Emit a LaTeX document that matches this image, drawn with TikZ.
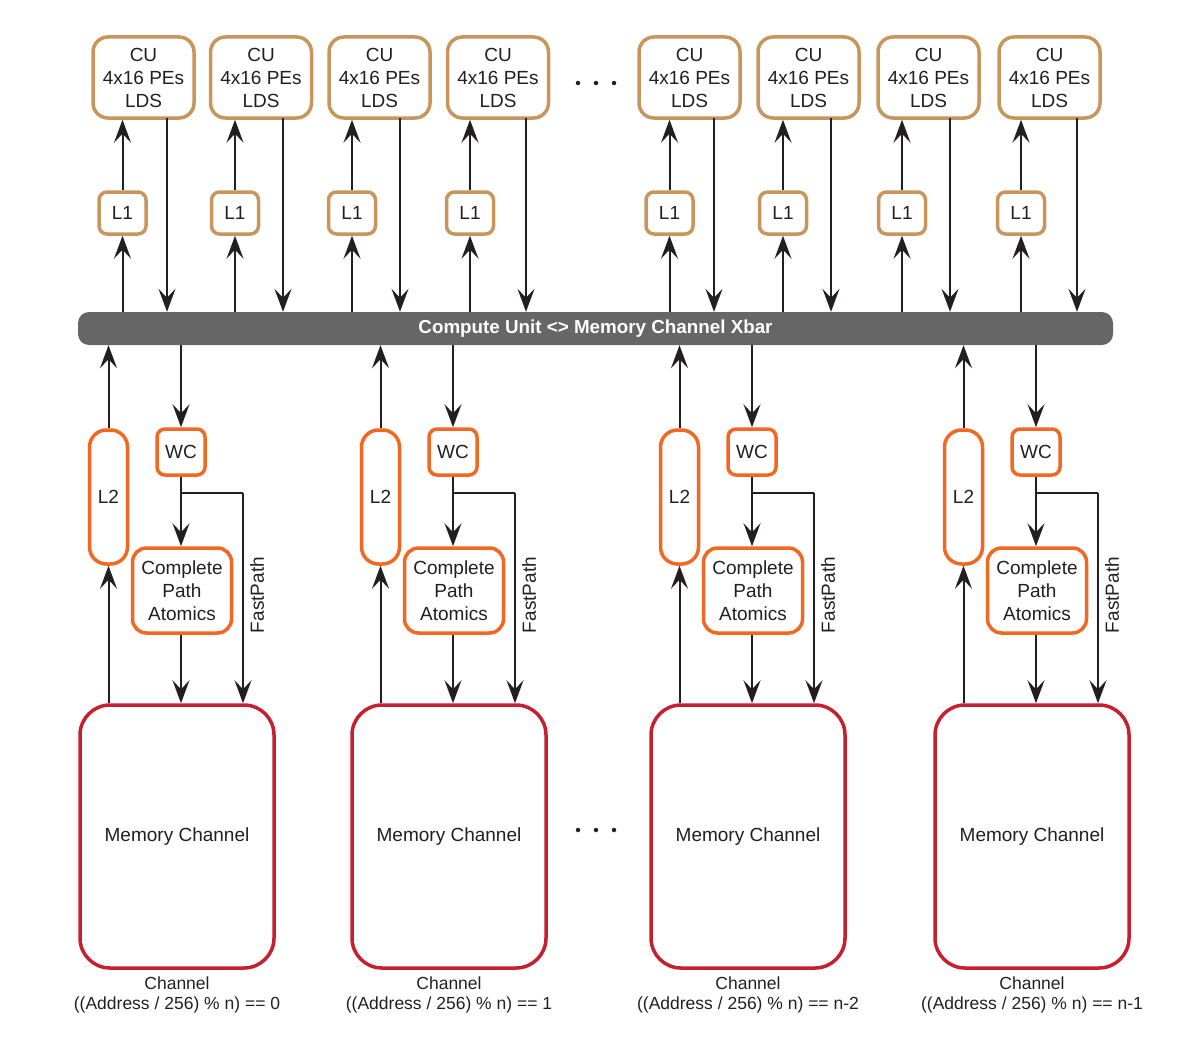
\documentclass[tikz,border=0pt]{standalone}
\usepackage{fontspec}
\setmainfont{Liberation Sans}
\usetikzlibrary{arrows.meta,calc}
\definecolor{cutan}{HTML}{C8955C}
\definecolor{orng}{HTML}{F26722}
\definecolor{memred}{HTML}{C51F30}
\definecolor{xgray}{HTML}{666666}
\definecolor{ink}{HTML}{231F20}
\tikzset{
  txt/.style={font=\fontsize{17.5}{22.5}\selectfont, text=ink, align=center, inner sep=0pt},
  btxt/.style={font=\fontsize{19}{23}\selectfont, text=ink, align=center, inner sep=0pt},
  cubox/.style={btxt, draw=cutan, line width=3.5pt, rounded corners=15pt, minimum width=101pt, minimum height=81pt, fill=white},
  lonebox/.style={btxt, draw=cutan, line width=3.5pt, rounded corners=8pt, minimum width=47pt, minimum height=42pt, fill=white},
  ltwobox/.style={btxt, draw=orng, line width=3.5pt, rounded corners=17pt, minimum width=38pt, minimum height=134pt, fill=white},
  wcbox/.style={btxt, draw=orng, line width=3.5pt, rounded corners=8pt, minimum width=48pt, minimum height=46pt, fill=white},
  cpabox/.style={btxt, draw=orng, line width=3.5pt, rounded corners=14pt, minimum width=99pt, minimum height=85pt, fill=white},
  membox/.style={btxt, draw=memred, line width=3.5pt, rounded corners=30pt, minimum width=194pt, minimum height=263pt, fill=white},
  xbarbox/.style={fill=xgray, rounded corners=11pt, minimum width=1035pt, minimum height=33pt, inner sep=0pt, text=white, font=\fontsize{18.8}{22}\selectfont\bfseries},
  arr/.style={draw=ink, line width=2pt, -{Stealth[length=23pt, width=17pt, inset=9pt]}},
  wire/.style={draw=ink, line width=2pt},
  dotc/.style={fill=ink, draw=none, circle, minimum size=4.5pt, inner sep=0pt},
}
\begin{document}
\begin{tikzpicture}[x=1pt,y=-1pt]
\useasboundingbox (0,0) rectangle (1180,1041);

% Xbar
\node[xbarbox] (xbar) at (595.5,328.5) {Compute Unit <> Memory Channel Xbar};

% CU columns: cu center x, L1 center x, down-arrow x
\foreach \i/\cx/\lx/\dx in {1/143.5/122.5/167, 2/261/235/283, 3/379.5/352/400, 4/498/470/526,
                            5/689.5/669.5/714, 6/808.5/783/831, 7/928.5/902/950, 8/1049.5/1021/1077}{
  \node[cubox] (cu\i) at (\cx,77.5) {CU\\4x16 PEs\\LDS};
  \node[lonebox] (lone\i) at (\lx,213) {L1};
  \coordinate (dn\i) at (\dx,118);
  \draw[arr] (lone\i.south |- xbar.north) -- (lone\i.south);
  \draw[arr] (lone\i.north) -- (lone\i.north |- cu\i.south);
  \draw[arr] (dn\i) -- (dn\i |- xbar.north);
}

% top dots
\node[dotc] (td1) at (578,83) {};
\node[dotc] (td2) at (596,83) {};
\node[dotc] (td3) at (614,83) {};

% memory columns
\foreach \j/\c/\lab in {1/80/0, 2/352/1, 3/651/n-2, 4/935/n-1}{
  \node[membox] (mem\j) at (\c+97,836.5) {Memory Channel};
  \node[ltwobox] (ltwo\j) at (\c+28.5,497) {L2};
  \node[wcbox] (wc\j) at (\c+101,452) {WC};
  \node[cpabox] (cpa\j) at (\c+102,590.5) {Complete\\Path\\Atomics};
  \coordinate (br\j) at (\c+163,493);
  \draw[arr] (ltwo\j.south |- mem\j.north) -- (ltwo\j.south);
  \draw[arr] (ltwo\j.north) -- (ltwo\j.north |- xbar.south);
  \draw[arr] (wc\j.north |- xbar.south) -- (wc\j.north);
  \draw[arr] (wc\j.south) -- (wc\j.south |- cpa\j.north);
  \draw[wire] (wc\j.south |- br\j) -- (br\j);
  \draw[arr] (br\j) -- (br\j |- mem\j.north);
  \draw[arr] (cpa\j.south -| wc\j.south) -- (wc\j.south |- mem\j.north);
  \node[btxt, rotate=90] (fp\j) at (\c+177,595) {FastPath};
  \node[txt] (ch\j) at (\c+97,983.5) {Channel};
  \node[txt] (eq\j) at (\c+97,1004.5) {((Address / 256) \% n) == \lab};
}

% bottom dots
\node[dotc] (bd1) at (578,830) {};
\node[dotc] (bd2) at (596,830) {};
\node[dotc] (bd3) at (614,830) {};
\end{tikzpicture}
\end{document}
